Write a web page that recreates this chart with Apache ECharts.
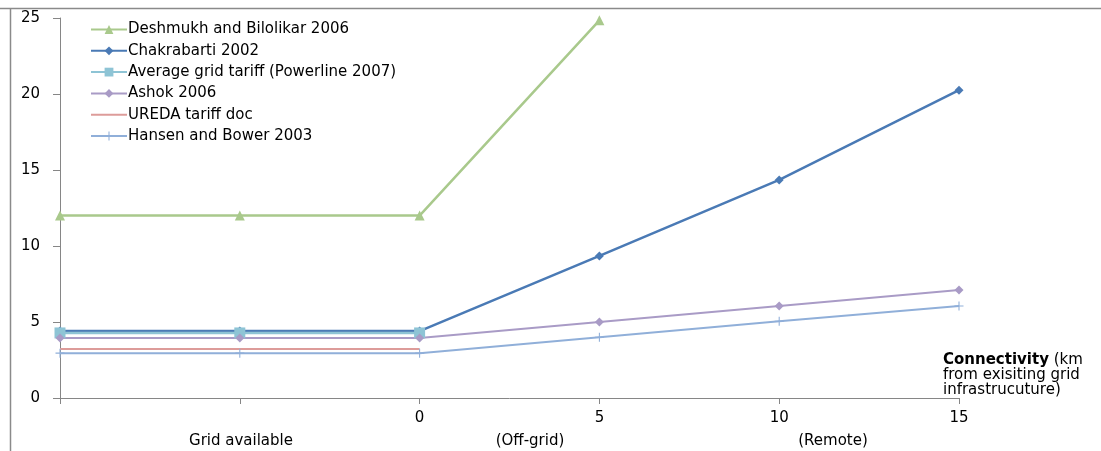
<!DOCTYPE html>
<html>
<head>
<meta charset="utf-8">
<script src="https://cdn.jsdelivr.net/npm/echarts@6/dist/echarts.min.js"></script>
<style>html,body{margin:0;padding:0;background:#fff;}#c{width:1101px;height:451px;}</style>
</head>
<body>
<div id="c"></div>
<script>
const categories = ['', '', '0', '5', '10', '15'];
const deshmukh = [12, 12, 12, 24.85, null, null];
const chakrabarti = [4.4, 4.4, 4.4, 9.35, 14.35, 20.25];
const avgTariff = [4.28, 4.28, 4.28, null, null, null];
const ashok = [3.95, 3.95, 3.95, 5.0, 6.05, 7.1];
const ureda = [3.22, 3.22, 3.22, null, null, null];
const hansen = [2.95, 2.95, 2.95, 4.0, 5.05, 6.05];
const seriesNames = ['Deshmukh and Bilolikar 2006', 'Chakrabarti 2002', 'Average grid tariff (Powerline 2007)', 'Ashok 2006', 'UREDA tariff doc', 'Hansen and Bower 2003'];
const zoneLabels = ['Grid available', '(Off-grid)', '(Remote)'];

const FONT = 'DejaVu Sans';
const FS = 15;
const chart = echarts.init(document.getElementById('c'));
const plus = 'path://M4.4,0h1.2v10h-1.2zM0,4.4h10v1.2h-10z';
function mk(name, data, color, symbol, size, width) {
  return {
    name, type: 'line', data, connectNulls: false, symbol, symbolSize: size,
    showSymbol: symbol !== 'none',
    lineStyle: { color, width }, itemStyle: { color },
    emphasis: { disabled: true }, animation: false
  };
}
chart.setOption({
  animation: false,
  grid: { left: 60, right: 142, top: 18, bottom: 53, containLabel: false },
  legend: {
    orient: 'vertical', left: 85, top: 17, itemGap: 6.3, itemWidth: 36, itemHeight: 11,
    textStyle: { fontFamily: FONT, fontSize: FS, color: '#000', padding: [0, 0, 0, -4] },
    data: seriesNames.map(n => n === 'UREDA tariff doc' ? { name: n, itemStyle: { opacity: 0 } } : n)
  },
  xAxis: {
    type: 'category', data: categories, boundaryGap: false,
    axisLine: { lineStyle: { color: '#868686', width: 1 } },
    axisTick: { show: true, interval: 0, length: 6, lineStyle: { color: '#868686' } },
    axisLabel: { interval: 0, margin: 13, color: '#000', fontFamily: FONT, fontSize: FS },
    splitLine: { show: false }
  },
  yAxis: {
    type: 'value', min: 0, max: 25, interval: 5,
    axisLine: { show: true, lineStyle: { color: '#868686', width: 1 } },
    axisTick: { show: true, length: 7, lineStyle: { color: '#868686' } },
    axisLabel: { margin: 20, color: '#000', fontFamily: FONT, fontSize: FS },
    splitLine: { show: false }
  },
  series: [
    mk(seriesNames[0], deshmukh, '#a9c98c', 'triangle', 10, 2.5),
    mk(seriesNames[1], chakrabarti, '#4a7ab5', 'diamond', 9, 2.5),
    mk(seriesNames[2], avgTariff, '#8ec4d5', 'rect', 11, 2.5),
    mk(seriesNames[3], ashok, '#a99bc6', 'diamond', 9, 2),
    mk(seriesNames[4], ureda, '#dd9c9a', 'none', 0, 2),
    mk(seriesNames[5], hansen, '#90afd9', plus, 9, 2)
  ],
  graphic: [
    { type: 'line', shape: { x1: 0, y1: 8.5, x2: 1101, y2: 8.5 }, style: { stroke: '#8a8a8a', lineWidth: 1.5 }, silent: true },
    { type: 'line', shape: { x1: 10.5, y1: 8, x2: 10.5, y2: 451 }, style: { stroke: '#8a8a8a', lineWidth: 1.5 }, silent: true },
    { type: 'text', x: 241, y: 434, style: { text: zoneLabels[0], font: FS + 'px "DejaVu Sans"', fill: '#000', textAlign: 'center' } },
    { type: 'text', x: 530, y: 434, style: { text: zoneLabels[1], font: FS + 'px "DejaVu Sans"', fill: '#000', textAlign: 'center' } },
    { type: 'text', x: 833, y: 434, style: { text: zoneLabels[2], font: FS + 'px "DejaVu Sans"', fill: '#000', textAlign: 'center' } },
    { type: 'text', x: 943, y: 353, style: {
      text: '{b|Connectivity} (km\nfrom exisiting grid\ninfrastrucuture)',
      font: FS + 'px "DejaVu Sans"', fill: '#000', lineHeight: 15,
      rich: { b: { fontWeight: 'bold', fontFamily: FONT, fontSize: FS, lineHeight: 15 } }
    } }
  ]
});
</script>
</body>
</html>
